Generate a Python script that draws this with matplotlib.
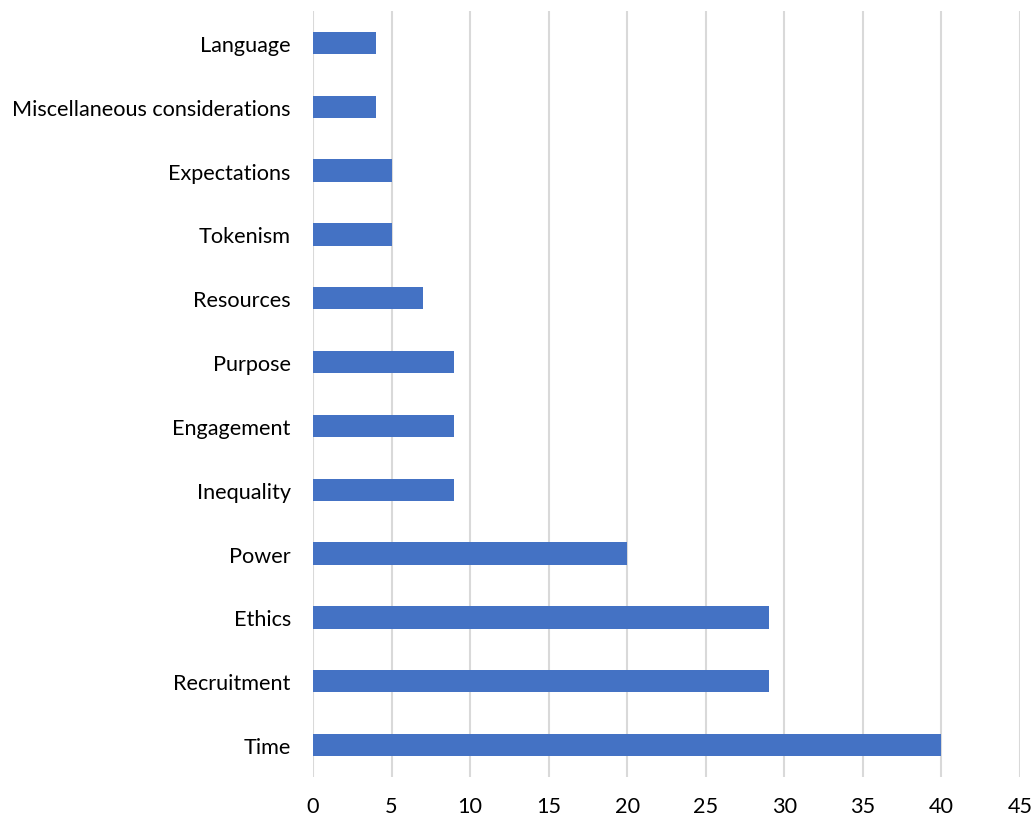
import matplotlib
matplotlib.use("Agg")
import matplotlib.pyplot as plt

categories = ["Time", "Recruitment", "Ethics", "Power", "Inequality", "Engagement",
              "Purpose", "Resources", "Tokenism", "Expectations",
              "Miscellaneous considerations", "Language"]
values = [40, 29, 29, 20, 9, 9, 9, 7, 5, 5, 4, 4]
xticks = [0, 5, 10, 15, 20, 25, 30, 35, 40, 45]

plt.rcParams['font.family'] = ['Lato', 'DejaVu Sans']

fig = plt.figure(figsize=(10.33, 8.2), dpi=100)
ax = fig.add_axes([313/1033, 1 - 778/820, (1020 - 313)/1033, (778 - 12)/820])

ax.barh(range(len(categories)), values, height=0.35, color="#4472C4", zorder=3)
ax.set_yticks(range(len(categories)))
ax.set_yticklabels(categories, fontsize=15.6, color="#000000")
ax.set_xticks(xticks)
ax.set_xticklabels([str(t) for t in xticks], fontsize=15.6, color="#000000")
ax.set_xlim(0, 45)
ax.set_ylim(-0.5, len(categories) - 0.5)
ax.grid(axis="x", color="#D9D9D9", linewidth=1.5, zorder=0)
for s in ax.spines.values():
    s.set_visible(False)
ax.tick_params(axis="both", length=0)
ax.tick_params(axis="y", pad=16)
ax.tick_params(axis="x", pad=14)

fig.savefig("out.png", dpi=100)
